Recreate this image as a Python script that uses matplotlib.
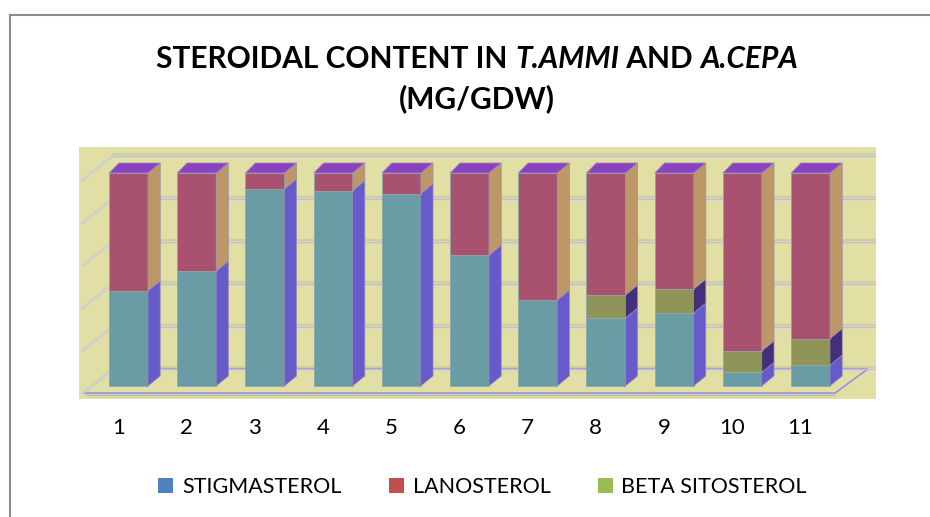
import matplotlib
matplotlib.use("Agg")
import matplotlib.pyplot as plt
from matplotlib.patches import Polygon, Rectangle, Patch
from matplotlib.lines import Line2D

# 100% stacked shares (percent of total)
samples = ["1", "2", "3", "4", "5", "6", "7", "8", "9", "10", "11"]
stigmasterol = [44.7, 53.9, 92.5, 91.7, 90.3, 61.4, 40.3, 31.9, 34.2, 6.4, 9.8]
beta_sitosterol = [0, 0, 0, 0, 0, 0, 0, 10.8, 11.3, 10.1, 12.5]
lanosterol = [55.3, 46.1, 7.5, 8.3, 9.7, 38.6, 59.7, 57.3, 54.5, 83.5, 77.7]
grid_values = [0, 20, 40, 60, 80, 100]

series = [
    ("STIGMASTEROL", stigmasterol, "#6A9CA6", "#675BCB", "#4F81BD"),
    ("BETA SITOSTEROL", beta_sitosterol, "#8F9458", "#44307A", "#9BBB59"),
    ("LANOSTEROL", lanosterol, "#A8526F", "#BC9868", "#C0504D"),
]
TOP_COLOR = "#8943BF"
BG = "#E1DFA3"
W, DX, DY = 0.57, 0.18, 4.7      # bar width and 3D depth offset
BACK = 8.0                        # depth of the back wall (in % units)

plt.rcParams["font.family"] = ["Lato", "DejaVu Sans"]

fig = plt.figure(figsize=(9.3, 5.17), dpi=100)
ax = fig.add_axes([79 / 930, 1 - 399 / 517, 797 / 930, 252 / 517])
ax.set_facecolor(BG)
ax.set_xlim(-0.726, 10.96)
ax.set_ylim(-6.1, 112.2)
for s in ax.spines.values():
    s.set_visible(False)
ax.set_xticks([])
ax.set_yticks([])

n = len(samples)
x_left, x_right = -0.67, n - 0.64

# floor
floor = Polygon([(x_left, -3.3), (x_right, -3.3), (x_right + 0.48, BACK),
                 (x_left + 0.44, BACK)], closed=True, facecolor=BG,
                edgecolor="#9494D8", lw=1.2, zorder=1)
ax.add_patch(floor)
ax.plot([x_left + 0.05, x_right], [-4.2, -4.2], color="#B8B8C8", lw=1.0, zorder=1)

# back wall gridlines with side-wall ticks
for g in grid_values:
    yb = BACK + g
    ax.plot([x_left + 0.44, 10.96], [yb + 0.7, yb + 0.7], color="#C9C7A6", lw=1.1, zorder=1)
    ax.plot([x_left + 0.44, 10.96], [yb - 0.2, yb - 0.2], color="#BDBCE0", lw=1.0, zorder=1)
    ax.plot([x_left, x_left + 0.44], [g - 3.3, yb], color="#BDBCE0", lw=1.6, zorder=1)
    ax.plot([x_left, x_left + 0.44], [g - 3.3, yb], color="#E8E6C8", lw=0.6, zorder=1)

# bars
for i in range(n):
    bottom = 0.0
    x0, x1 = i - W / 2, i + W / 2
    for name, vals, front, side, _ in series:
        v = vals[i]
        if v <= 0:
            continue
        top = bottom + v
        ax.add_patch(Rectangle((x0, bottom), W, v, facecolor=front,
                               edgecolor="#8FA8A8", lw=0.6, zorder=3))
        ax.add_patch(Polygon([(x1, bottom), (x1 + DX, bottom + DY),
                              (x1 + DX, top + DY), (x1, top)], closed=True,
                             facecolor=side, edgecolor="#9A8FB0", lw=0.5, zorder=3))
        bottom = top
    ax.add_patch(Polygon([(x0, bottom), (x0 + DX * 0.8, bottom + DY),
                          (x1 + DX, bottom + DY), (x1, bottom)], closed=True,
                         facecolor=TOP_COLOR, edgecolor="#A08AC0", lw=0.5, zorder=3))
    ax.text(i - 0.15, -19.5, samples[i], ha="center", va="center",
            fontsize=16, clip_on=False)

# title with italic species names
renderer = fig.canvas.get_renderer()


def title_line(parts, y, size=21.5):
    texts = [fig.text(0, y, s, fontsize=size, fontweight="bold", style=st,
                      va="center", ha="left") for s, st in parts]
    widths = [t.get_window_extent(renderer).width for t in texts]
    x = 477 - sum(widths) / 2
    for t, w in zip(texts, widths):
        t.set_x(x / 930)
        x += w


title_line([("STEROIDAL CONTENT IN ", "normal"), ("T.AMMI", "italic"),
            (" AND ", "normal"), ("A.CEPA", "italic")], 1 - 59 / 517)
title_line([("(MG/GDW)", "normal")], 1 - 99 / 517)

# legend
handles = [Patch(facecolor=series[k][4]) for k in (0, 2, 1)]
labels = [series[k][0] for k in (0, 2, 1)]
fig.legend(handles, labels, loc="center", bbox_to_anchor=(0.519, 1 - 487 / 517),
           ncol=3, frameon=False, fontsize=15.5, handlelength=0.7, handleheight=0.7,
           handletextpad=0.4, columnspacing=2.2)

# chart frame
fig.add_artist(Line2D([9.5 / 930, 9.5 / 930], [0, 1 - 14.5 / 517],
                      color="#8C8C8C", lw=1.5))
fig.add_artist(Line2D([9.5 / 930, 1], [1 - 14.5 / 517, 1 - 14.5 / 517],
                      color="#8C8C8C", lw=1.5))

fig.savefig("out.png", dpi=100)
